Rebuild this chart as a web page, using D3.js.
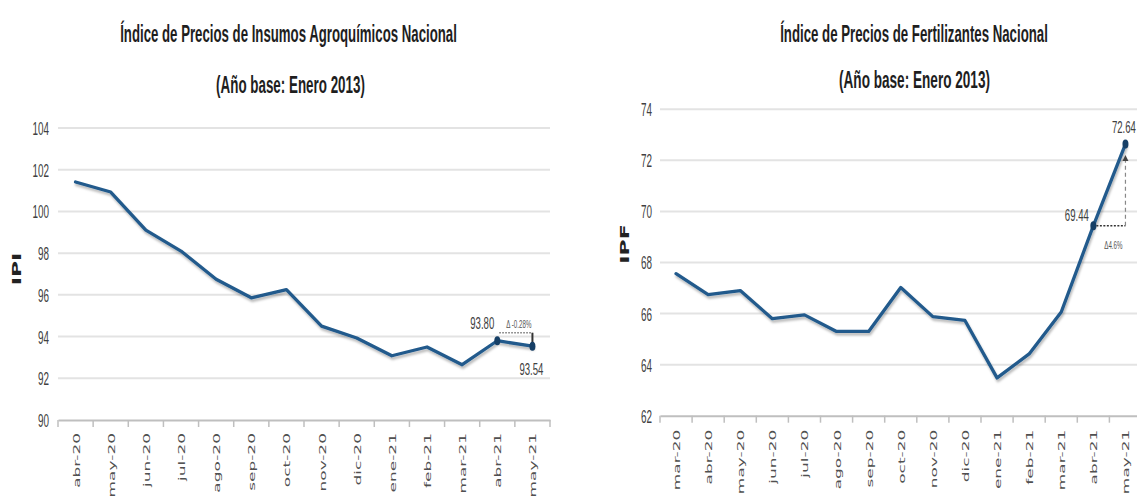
<!DOCTYPE html>
<html><head><meta charset="utf-8">
<script src="https://cdn.jsdelivr.net/npm/d3@7"></script>
<style>body{margin:0;background:#fff;overflow:hidden} svg{display:block}</style>
</head><body>
<svg id="c" width="1137" height="501"></svg>
<script>
// ---------- data ----------
const catsL = ["abr-20","may-20","jun-20","jul-20","ago-20","sep-20","oct-20","nov-20","dic-20","ene-21","feb-21","mar-21","abr-21","may-21"];
const valsL = [101.41, 100.93, 99.1, 98.1, 96.75, 95.86, 96.25, 94.5, 93.93, 93.08, 93.5, 92.65, 93.80, 93.54];
const ticksL = [90, 92, 94, 96, 98, 100, 102, 104];

const catsR = ["mar-20","abr-20","may-20","jun-20","jul-20","ago-20","sep-20","oct-20","nov-20","dic-20","ene-21","feb-21","mar-21","abr-21","may-21"];
const valsR = [67.56, 66.74, 66.9, 65.8, 65.95, 65.3, 65.3, 67.02, 65.88, 65.73, 63.48, 64.42, 66.06, 69.44, 72.64];
const ticksR = [62, 64, 66, 68, 70, 72, 74];

const titleL = ["Índice de Precios de Insumos Agroquímicos Nacional", "(Año base: Enero 2013)"];
const titleR = ["Índice de Precios de Fertilizantes Nacional", "(Año base: Enero 2013)"];
const axisTitleL = "IPI";
const axisTitleR = "IPF";
const deltaL = "Δ -0.28%";
const deltaR = "Δ4.6%";

// ---------- drawing ----------
const svg = d3.select("#c");
const defs = svg.append("defs");
defs.append("filter").attr("id","sh").attr("x","-5%").attr("y","-5%").attr("width","110%").attr("height","120%")
  .append("feDropShadow").attr("dx",1).attr("dy",2.5).attr("stdDeviation",1.3)
  .attr("flood-color","#000").attr("flood-opacity",0.28);
defs.append("marker").attr("id","arrUp").attr("viewBox","0 0 10 10").attr("refX",5).attr("refY",5)
  .attr("markerWidth",5).attr("markerHeight",6).attr("orient","auto")
  .append("path").attr("d","M0,0L10,5L0,10z").attr("fill","#444");

const LINE = "#215a8c", MARK = "#163f66", TXT = "#404040";

function condText(g, txt, x, y, size, sx, anchor, fill, family) {
  return g.append("text").text(txt)
    .attr("transform", `translate(${x},${y}) scale(${sx},1)`)
    .attr("text-anchor", anchor).attr("fill", fill)
    .style("font-family", family || "'Liberation Sans', Arial, sans-serif")
    .style("font-size", size + "px");
}

function panel(cfg) {
  const g = svg.append("g");
  const x = d3.scaleBand().domain(cfg.cats).range(cfg.xr).padding(0);
  const y = d3.scaleLinear().domain(cfg.yd).range(cfg.yr);
  const cx = c => x(c) + x.bandwidth() / 2;
  const base = cfg.yr[0];

  // titles (condensed to the measured width with a horizontal scale)
  cfg.title.forEach((t, i) => {
    const tx = g.append("text").text(t)
      .attr("text-anchor", "middle")
      .attr("fill", "#1e1e1e")
      .style("font-family", "'Liberation Sans', Arial, sans-serif")
      .style("font-weight", "bold").style("font-size", "24px");
    const w = tx.node().getComputedTextLength();
    tx.attr("transform", `translate(${cfg.titleX[i]},${cfg.titleY[i]}) scale(${cfg.titleW[i] / w},1)`);
  });

  // gridlines
  g.selectAll(".grid").data(cfg.ticks.slice(1)).join("line")
    .attr("x1", cfg.xr[0]).attr("x2", cfg.gridEnd)
    .attr("y1", d => y(d)).attr("y2", d => y(d))
    .attr("stroke", "#e3e3e3").attr("stroke-width", 2);

  // y axis
  const ya = g.append("g").attr("transform", `translate(${cfg.yaxX},0)`)
    .call(d3.axisLeft(y).tickValues(cfg.ticks).tickSize(0).tickPadding(0).tickFormat(d3.format("d")));
  ya.select(".domain").remove();
  ya.selectAll("text").attr("x", 0).attr("dy", "0.36em")
    .attr("transform", "scale(0.55,1)").attr("fill", TXT)
    .style("font-family", "'Liberation Sans', Arial, sans-serif").style("font-size", "18px");

  // axis title
  g.append("text").text(cfg.axisTitle)
    .attr("transform", `translate(${cfg.atX},${cfg.atY}) rotate(-90) scale(1,0.56)`)
    .attr("text-anchor", "middle").attr("fill", "#222")
    .style("font-family", "'DejaVu Sans', sans-serif").style("font-weight", "bold").style("font-size", "22px");

  // x axis
  const xa = g.append("g").attr("transform", `translate(0,${base})`)
    .call(d3.axisBottom(x).tickSize(0).tickSizeOuter(0));
  xa.select(".domain").attr("stroke", "#bfbfbf").attr("stroke-width", 2);
  xa.selectAll("text").attr("y", null).attr("dy", null)
    .attr("transform", `translate(4,${cfg.labOff}) rotate(-90) scale(1,0.56)`)
    .style("text-anchor", "end").attr("fill", "#505050")
    .style("font-family", "'DejaVu Sans', Verdana, sans-serif").style("font-size", "17px");
  g.selectAll(".bt").data(d3.range(cfg.cats.length + 1)).join("line")
    .attr("x1", i => cfg.xr[0] + i * x.step()).attr("x2", i => cfg.xr[0] + i * x.step())
    .attr("y1", base).attr("y2", base + 7)
    .attr("stroke", "#bfbfbf").attr("stroke-width", 1.5);

  // line
  const line = d3.line().x((d, i) => cx(cfg.cats[i])).y(d => y(d)).curve(d3.curveLinear);
  g.append("path").datum(cfg.vals).attr("d", line)
    .attr("fill", "none").attr("stroke", LINE).attr("stroke-width", 3.3)
    .attr("stroke-linejoin", "round").attr("stroke-linecap", "round")
    .attr("filter", "url(#sh)");

  const n = cfg.cats.length;
  const A = { x: cx(cfg.cats[n - 2]), y: y(cfg.vals[n - 2]), v: cfg.vals[n - 2] };
  const B = { x: cx(cfg.cats[n - 1]), y: y(cfg.vals[n - 1]), v: cfg.vals[n - 1] };
  cfg.annot(g, A, B);

  [A, B].forEach(p => g.append("ellipse").attr("cx", p.x).attr("cy", p.y)
    .attr("rx", 3).attr("ry", 4.5).attr("fill", MARK));
}

panel({
  cats: catsL, vals: valsL, ticks: ticksL, yd: [90, 104],
  xr: [58, 550], yr: [420, 128], gridEnd: 550, yaxX: 49,
  title: titleL, titleX: [288.5, 290.5], titleY: [42, 93], titleW: [337, 149],
  axisTitle: axisTitleL, atX: 21, atY: 269, labOff: 13,
  annot: (g, A, B) => {
    const yy = A.y - 8;
    g.append("line").attr("x1", A.x + 2).attr("x2", B.x).attr("y1", yy).attr("y2", yy)
      .attr("stroke", "#777").attr("stroke-width", 1.5).attr("stroke-dasharray", "1.5,1.5");
    g.append("line").attr("x1", B.x).attr("x2", B.x).attr("y1", yy).attr("y2", B.y - 2)
      .attr("stroke", "#333").attr("stroke-width", 2);
    condText(g, d3.format(".2f")(A.v), A.x - 3, A.y - 12, 16, 0.6, "end", TXT);
    condText(g, deltaL, (A.x + B.x) / 2 + 4, yy - 5, 10, 0.62, "middle", "#555");
    condText(g, d3.format(".2f")(B.v), B.x - 13, B.y + 29, 16, 0.6, "start", TXT);
  }
});

panel({
  cats: catsR, vals: valsR, ticks: ticksR, yd: [62, 74],
  xr: [660, 1141.5], yr: [415.7, 109.3], gridEnd: 1145, yaxX: 652,
  title: titleR, titleX: [914, 914.5], titleY: [42, 88], titleW: [268, 151],
  axisTitle: axisTitleR, atX: 629, atY: 244, labOff: 14,
  annot: (g, A, B) => {
    g.append("line").attr("x1", A.x + 3).attr("x2", B.x).attr("y1", A.y).attr("y2", A.y)
      .attr("stroke", "#333").attr("stroke-width", 1.5).attr("stroke-dasharray", "2,1.5");
    g.append("line").attr("x1", B.x).attr("x2", B.x).attr("y1", A.y).attr("y2", B.y + 14)
      .attr("stroke", "#888").attr("stroke-width", 1.2).attr("stroke-dasharray", "4,3")
      .attr("marker-end", "url(#arrUp)");
    condText(g, d3.format(".2f")(A.v), A.x - 4.5, A.y - 5, 16, 0.6, "end", TXT);
    condText(g, d3.format(".2f")(B.v), B.x + 10.5, B.y - 11, 16, 0.6, "end", TXT);
    condText(g, deltaR, (A.x + B.x) / 2 + 4, A.y + 23, 10, 0.62, "middle", "#555");
  }
});
</script>
</body></html>
